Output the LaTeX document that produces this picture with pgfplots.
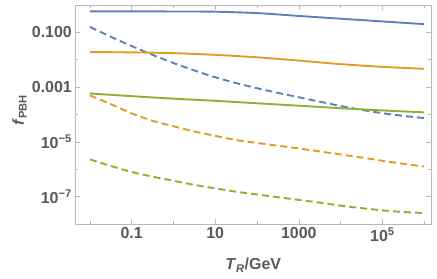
\documentclass[border=0pt]{standalone}
\usepackage{pgfplots}
\pgfplotsset{compat=1.18}
\usepackage{fontspec}
\setmainfont{Liberation Sans}
\definecolor{mblue}{rgb}{0.368417,0.506779,0.709798}
\definecolor{morange}{rgb}{0.880722,0.611041,0.142051}
\definecolor{mgreen}{rgb}{0.560181,0.691569,0.194885}
\definecolor{labgray}{gray}{0.35}
\definecolor{framegray}{gray}{0.72}
\begin{document}
\begin{tikzpicture}
\begin{loglogaxis}[
  scale only axis, width=355.7bp, height=219bp,
  xmin=4.47e-3, xmax=1.46e6, ymin=1e-8, ymax=1,
  axis line style={framegray, line width=1bp},
  xtick={0.1,10,1000,1e5},
  xticklabels={0.1,10,1000,10\textsuperscript{5}},
  minor xtick={0.01,1,100,1e4,1e6},
  ytick={1e-7,1e-5,1e-3,0.1},
  yticklabels={10\textsuperscript{−7},10\textsuperscript{−5},0.001,0.100},
  minor ytick={1e-8,1e-6,1e-4,0.01,1},
  tick align=inside, major tick length=5bp, minor tick length=3bp,
  tick style={framegray, line width=0.6bp},
  ticklabel style={font=\fontsize{16}{19}\selectfont\bfseries, text=labgray},
  label style={font=\fontsize{16}{19}\selectfont\bfseries, text=labgray},
  xlabel={\textit{T}\textsubscript{\textit{R}}/GeV},
  ylabel={\textit{f}\textsubscript{PBH}},
  xlabel style={at={(axis description cs:0.5,-0.187)}, anchor=center},
  ylabel style={at={(axis description cs:-0.157,0.52)}, anchor=center},
  every axis plot/.append style={line width=1.9bp, smooth, no markers},
  clip=true,
]
% blue solid
\addplot[mblue] coordinates {
(1e-2,0.582)(0.1,0.582)(1,0.581)(3.16,0.578)(10,0.569)(31.6,0.543)(100,0.507)(316,0.452)(1000,0.398)(3162,0.355)(1e4,0.316)(31623,0.282)(1e5,0.251)(316228,0.224)(1e6,0.200)};
% blue dashed
\addplot[mblue, dash pattern=on 7bp off 4bp] coordinates {
(1e-2,0.158)(3.16e-2,0.0692)(0.1,0.0316)(0.316,0.0151)(1,0.00759)(3.16,0.00407)(10,0.00229)(31.6,0.00141)(100,9.12e-4)(316,6.17e-4)(1000,4.27e-4)(3162,2.95e-4)(1e4,2.04e-4)(31623,1.48e-4)(1e5,1.12e-4)(316228,8.91e-5)(1e6,7.41e-5)};
% orange solid
\addplot[morange] coordinates {
(1e-2,0.0191)(0.1,0.0186)(1,0.0174)(10,0.0151)(100,0.0123)(1000,0.00933)(1e4,0.00692)(1e5,0.00550)(1e6,0.00468)};
% orange dashed
\addplot[morange, dash pattern=on 7bp off 4bp] coordinates {
(1e-2,5.01e-4)(3.16e-2,2.40e-4)(0.1,1.10e-4)(0.316,5.89e-5)(1,3.72e-5)(3.16,2.40e-5)(10,1.66e-5)(31.6,1.17e-5)(100,9.12e-6)(316,7.24e-6)(1000,5.75e-6)(3162,4.47e-6)(1e4,3.47e-6)(31623,2.69e-6)(1e5,2.04e-6)(316228,1.58e-6)(1e6,1.26e-6)};
% green solid
\addplot[mgreen] coordinates {
(1e-2,5.89e-4)(0.1,4.68e-4)(1,3.80e-4)(10,3.16e-4)(100,2.57e-4)(1000,2.09e-4)(1e4,1.70e-4)(1e5,1.41e-4)(1e6,1.20e-4)};
% green dashed
\addplot[mgreen, dash pattern=on 7bp off 4bp] coordinates {
(1e-2,2.29e-6)(3.16e-2,1.32e-6)(0.1,7.94e-7)(0.316,5.37e-7)(1,3.80e-7)(3.16,2.69e-7)(10,2.00e-7)(31.6,1.51e-7)(100,1.20e-7)(316,9.55e-8)(1000,7.59e-8)(3162,6.03e-8)(1e4,4.68e-8)(31623,3.80e-8)(1e5,3.16e-8)(316228,2.75e-8)(1e6,2.51e-8)};
\end{loglogaxis}
\pgfresetboundingbox
\path[use as bounding box] ([xshift=-75.3bp,yshift=-55bp]current axis.south west) rectangle ([xshift=6bp,yshift=5bp]current axis.north east);
\end{tikzpicture}
\end{document}
